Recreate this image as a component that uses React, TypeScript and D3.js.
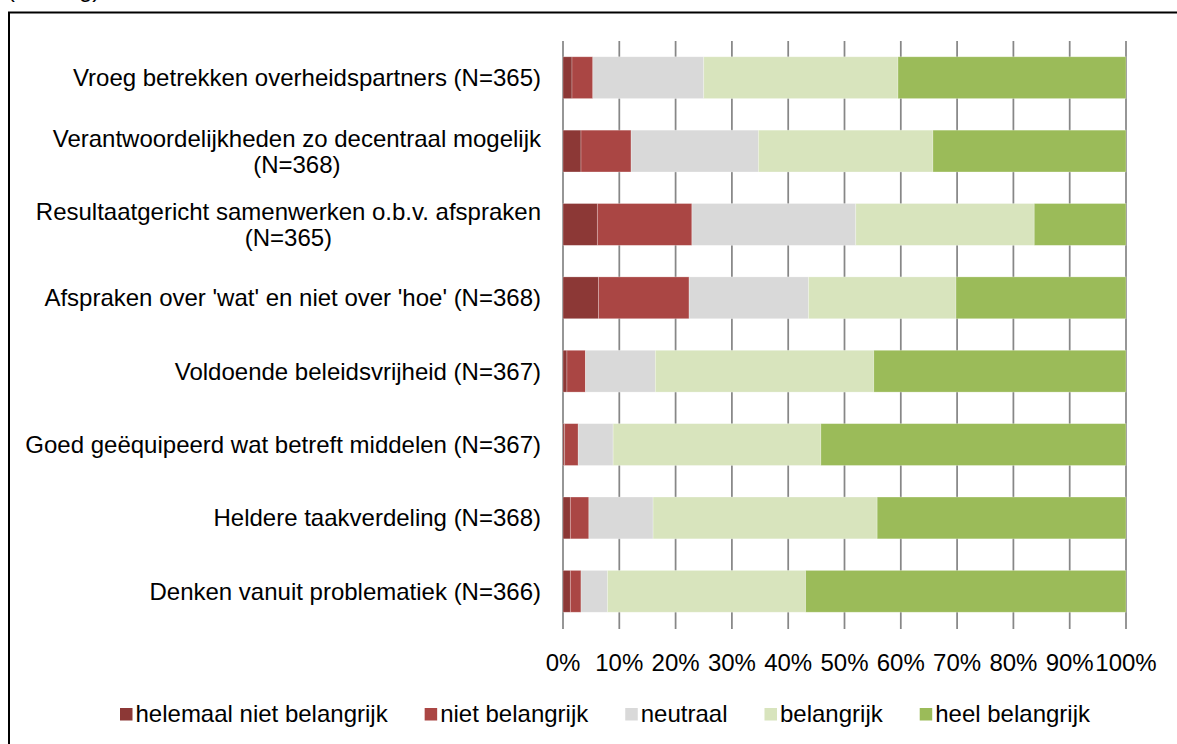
import React, { useEffect, useRef } from "react";
import * as d3 from "d3";

const categories: string[][] = [
  ["Vroeg betrekken overheidspartners (N=365)"],
  ["Verantwoordelijkheden zo decentraal mogelijk", "(N=368)"],
  ["Resultaatgericht samenwerken o.b.v. afspraken", "(N=365)"],
  ["Afspraken over 'wat' en niet over 'hoe' (N=368)"],
  ["Voldoende beleidsvrijheid (N=367)"],
  ["Goed geëquipeerd wat betreft middelen (N=367)"],
  ["Heldere taakverdeling (N=368)"],
  ["Denken vanuit problematiek (N=366)"],
];

const seriesNames = [
  "helemaal niet belangrijk",
  "niet belangrijk",
  "neutraal",
  "belangrijk",
  "heel belangrijk",
];

const helemaalNiet = [1.6, 3.2, 6.1, 6.3, 0.7, 0.3, 1.3, 1.3];
const nietBelangrijk = [3.7, 8.9, 16.8, 16.1, 3.3, 2.4, 3.3, 1.9];
const neutraal = [19.7, 22.6, 29.1, 21.2, 12.4, 6.2, 11.4, 4.7];
const belangrijk = [34.5, 31.0, 31.7, 26.2, 38.8, 36.9, 39.8, 35.2];
const heelBelangrijk = [40.5, 34.3, 16.3, 30.2, 44.8, 54.2, 44.2, 56.9];

const tickValues = [0, 10, 20, 30, 40, 50, 60, 70, 80, 90, 100];

const colors = ["#8C3836", "#AA4644", "#D9D9D9", "#D8E4BD", "#9BBB59"];

const W = 1177;
const H = 744;
const FONT = "'Liberation Sans', Arial, sans-serif";
const FS = 24;

export default function App() {
  const ref = useRef<SVGSVGElement | null>(null);

  useEffect(() => {
    const svg = d3.select(ref.current);
    svg.selectAll("*").remove();

    const seriesValues = [helemaalNiet, nietBelangrijk, neutraal, belangrijk, heelBelangrijk];
    const rows = categories.map((c, i) => {
      const r: any = { key: String(i) };
      seriesNames.forEach((s, j) => (r[s] = seriesValues[j][i]));
      return r;
    });

    const plotLeft = 563;
    const plotRight = 1126;
    const plotTop = 41;
    const plotBottom = 628;

    const x = d3.scaleLinear().domain([0, 100]).range([plotLeft, plotRight]);
    const y = d3
      .scaleBand<string>()
      .domain(categories.map((_, i) => String(i)))
      .range([plotTop, plotBottom])
      .paddingInner(0.43)
      .paddingOuter(0.215);

    // top clipped caption (only its lowest part is visible in the reference)
    svg
      .append("text")
      .attr("x", 7)
      .attr("y", -3.5)
      .attr("font-family", FONT)
      .attr("font-size", FS)
      .attr("fill", "#000")
      .text("(vervolg)");

    // frame
    svg
      .append("rect")
      .attr("x", 9)
      .attr("y", 12.5)
      .attr("width", 1192)
      .attr("height", 800)
      .attr("fill", "none")
      .attr("stroke", "#000")
      .attr("stroke-width", 2);

    // gridlines
    svg
      .append("g")
      .selectAll("line")
      .data(tickValues)
      .join("line")
      .attr("x1", (d) => x(d))
      .attr("x2", (d) => x(d))
      .attr("y1", plotTop)
      .attr("y2", plotBottom + 1)
      .attr("stroke", "#878787")
      .attr("stroke-width", 1.75);

    // bars
    const stack = d3.stack<any>().keys(seriesNames);
    const stacked = stack(rows);
    svg
      .append("g")
      .selectAll("g")
      .data(stacked)
      .join("g")
      .attr("fill", (_, i) => colors[i])
      .selectAll("rect")
      .data((d) => d)
      .join("rect")
      .attr("x", (d) => x(d[0]))
      .attr("width", (d) => Math.max(0, x(d[1]) - x(d[0])))
      .attr("y", (d: any) => y(d.data.key)!)
      .attr("height", y.bandwidth())
      .attr("stroke", "rgba(255,255,255,0.35)")
      .attr("stroke-width", 0.75);

    // tick labels
    svg
      .append("g")
      .selectAll("text")
      .data(tickValues)
      .join("text")
      .attr("x", (d) => x(d))
      .attr("y", 671)
      .attr("text-anchor", "middle")
      .attr("font-family", FONT)
      .attr("font-size", FS)
      .attr("fill", "#000")
      .text((d) => `${d}%`);

    // category labels
    const labelRight = 541;
    const lineH = 26;
    categories.forEach((lines, i) => {
      const cy = y(String(i))! + y.bandwidth() / 2;
      const g = svg.append("g");
      const texts = lines.map((l) =>
        g
          .append("text")
          .attr("font-family", FONT)
          .attr("font-size", FS)
          .attr("fill", "#000")
          .attr("text-anchor", "middle")
          .text(l)
      );
      const widths = texts.map((t) => (t.node() as SVGTextElement).getComputedTextLength());
      const maxW = Math.max(...widths);
      const cx = labelRight - maxW / 2;
      const n = lines.length;
      texts.forEach((t, k) => {
        const lineCenter = cy + (k - (n - 1) / 2) * lineH;
        t.attr("x", cx).attr("y", lineCenter + 8.5);
      });
    });

    // legend
    const legendG = svg.append("g");
    const sq = 12.5;
    const gapSq = 3;
    const gapItem = 37;
    const items = seriesNames.map((s, i) => {
      const gi = legendG.append("g");
      gi.append("rect")
        .attr("width", sq)
        .attr("height", sq)
        .attr("y", 708)
        .attr("fill", colors[i]);
      const t = gi
        .append("text")
        .attr("x", sq + gapSq)
        .attr("y", 722)
        .attr("font-family", FONT)
        .attr("font-size", FS)
        .attr("fill", "#000")
        .text(s);
      const w = (t.node() as SVGTextElement).getComputedTextLength();
      return { gi, w: sq + gapSq + w };
    });
    const total = d3.sum(items, (d) => d.w) + gapItem * (items.length - 1);
    let cur = 605 - total / 2;
    items.forEach((it) => {
      it.gi.attr("transform", `translate(${cur},0)`);
      cur += it.w + gapItem;
    });
  }, []);

  return (
    <svg
      ref={ref}
      width={W}
      height={H}
      style={{ position: "absolute", left: 0, top: 0, display: "block", background: "#fff" }}
    />
  );
}
